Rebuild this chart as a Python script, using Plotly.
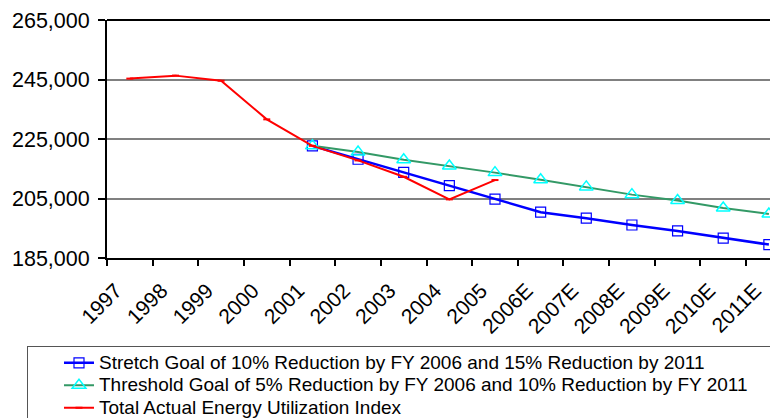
import plotly.graph_objects as go

# energy utilization index, actual vs goals
years = ['1997', '1998', '1999', '2000', '2001', '2002', '2003', '2004', '2005',
         '2006E', '2007E', '2008E', '2009E', '2010E', '2011E']
actual = [245300, 246300, 244600, 231600, 222700, 217800, 212300, 204700, 211200,
          None, None, None, None, None, None]
stretch = [None, None, None, None, 222700, 218200, 213800, 209300, 204800,
           200400, 198400, 196100, 194100, 191700, 189500]
threshold = [None, None, None, None, 222700, 220600, 218000, 215900, 213700,
             211300, 208900, 206300, 204300, 201800, 199800]

FONT = "Liberation Sans, Arial, sans-serif"


def big(txt, pad=0):
    # legend spacing follows legend font size, text drawn bigger
    return '<span style="font-size:19px">' + txt + '&nbsp;' * pad + '</span>'


fig = go.Figure()
fig.add_trace(go.Scatter(x=years, y=stretch, mode='lines+markers',
                         name=big('Stretch Goal of 10% Reduction by FY 2006 and 15% Reduction by 2011'),
                         line=dict(color='#0000FF', width=2.5),
                         marker=dict(symbol='square-open', size=10, color='#0000FF',
                                     line=dict(width=1.2))))
fig.add_trace(go.Scatter(x=years, y=threshold, mode='lines+markers',
                         name=big('Threshold Goal of 5% Reduction by FY 2006 and 10% Reduction by FY 2011', 6),
                         line=dict(color='#339966', width=2),
                         marker=dict(symbol='triangle-up-open', size=12, color='#00FFFF',
                                     line=dict(width=1.5))))
fig.add_trace(go.Scatter(x=years, y=actual, mode='lines+markers',
                         name=big('Total Actual Energy Utilization Index'),
                         line=dict(color='#FF0000', width=2),
                         marker=dict(symbol='line-ew', size=5, color='#FF0000',
                                     line=dict(width=2, color='#FF0000'))))

# page body has an 8px margin, so the figure is 8px smaller each way
fig.update_layout(
    width=770, height=410,
    paper_bgcolor='white', plot_bgcolor='white',
    font=dict(family=FONT, size=18, color='black'),
    margin=dict(l=99, r=0, t=12, b=160, autoexpand=False),
    showlegend=True,
    legend=dict(x=-0.119, y=-0.368, xanchor='left', yanchor='top',
                bordercolor='#555555', borderwidth=1,
                font=dict(size=15), traceorder='normal',
                title=dict(text='&nbsp;' * 5, side='left', font=dict(size=15)),
                tracegroupgap=0, itemwidth=30),
    shapes=[dict(type='line', xref='paper', yref='paper', x0=0, x1=1, y0=1, y1=1,
                 line=dict(color='black', width=2))],
)
fig.update_xaxes(
    type='category', range=[-0.5, 14.2], automargin=False,
    showline=True, linecolor='black', linewidth=2,
    ticks='outside', tickson='boundaries', ticklen=6, tickwidth=1.5, tickcolor='black',
    tickangle=-45, tickfont=dict(size=21),
    ticklabelstandoff=10, ticklabelshift=-14,
    showgrid=False)
fig.update_yaxes(
    range=[185000, 265000], tick0=185000, dtick=20000, tickformat=',',
    automargin=False,
    showline=True, linecolor='black', linewidth=2,
    ticks='outside', ticklen=7, tickwidth=1.5, tickcolor='black',
    tickfont=dict(size=21.5), ticklabelstandoff=4,
    showgrid=True, gridcolor='#808080', gridwidth=1.5,
    zeroline=False)

fig.write_html("out.html")
